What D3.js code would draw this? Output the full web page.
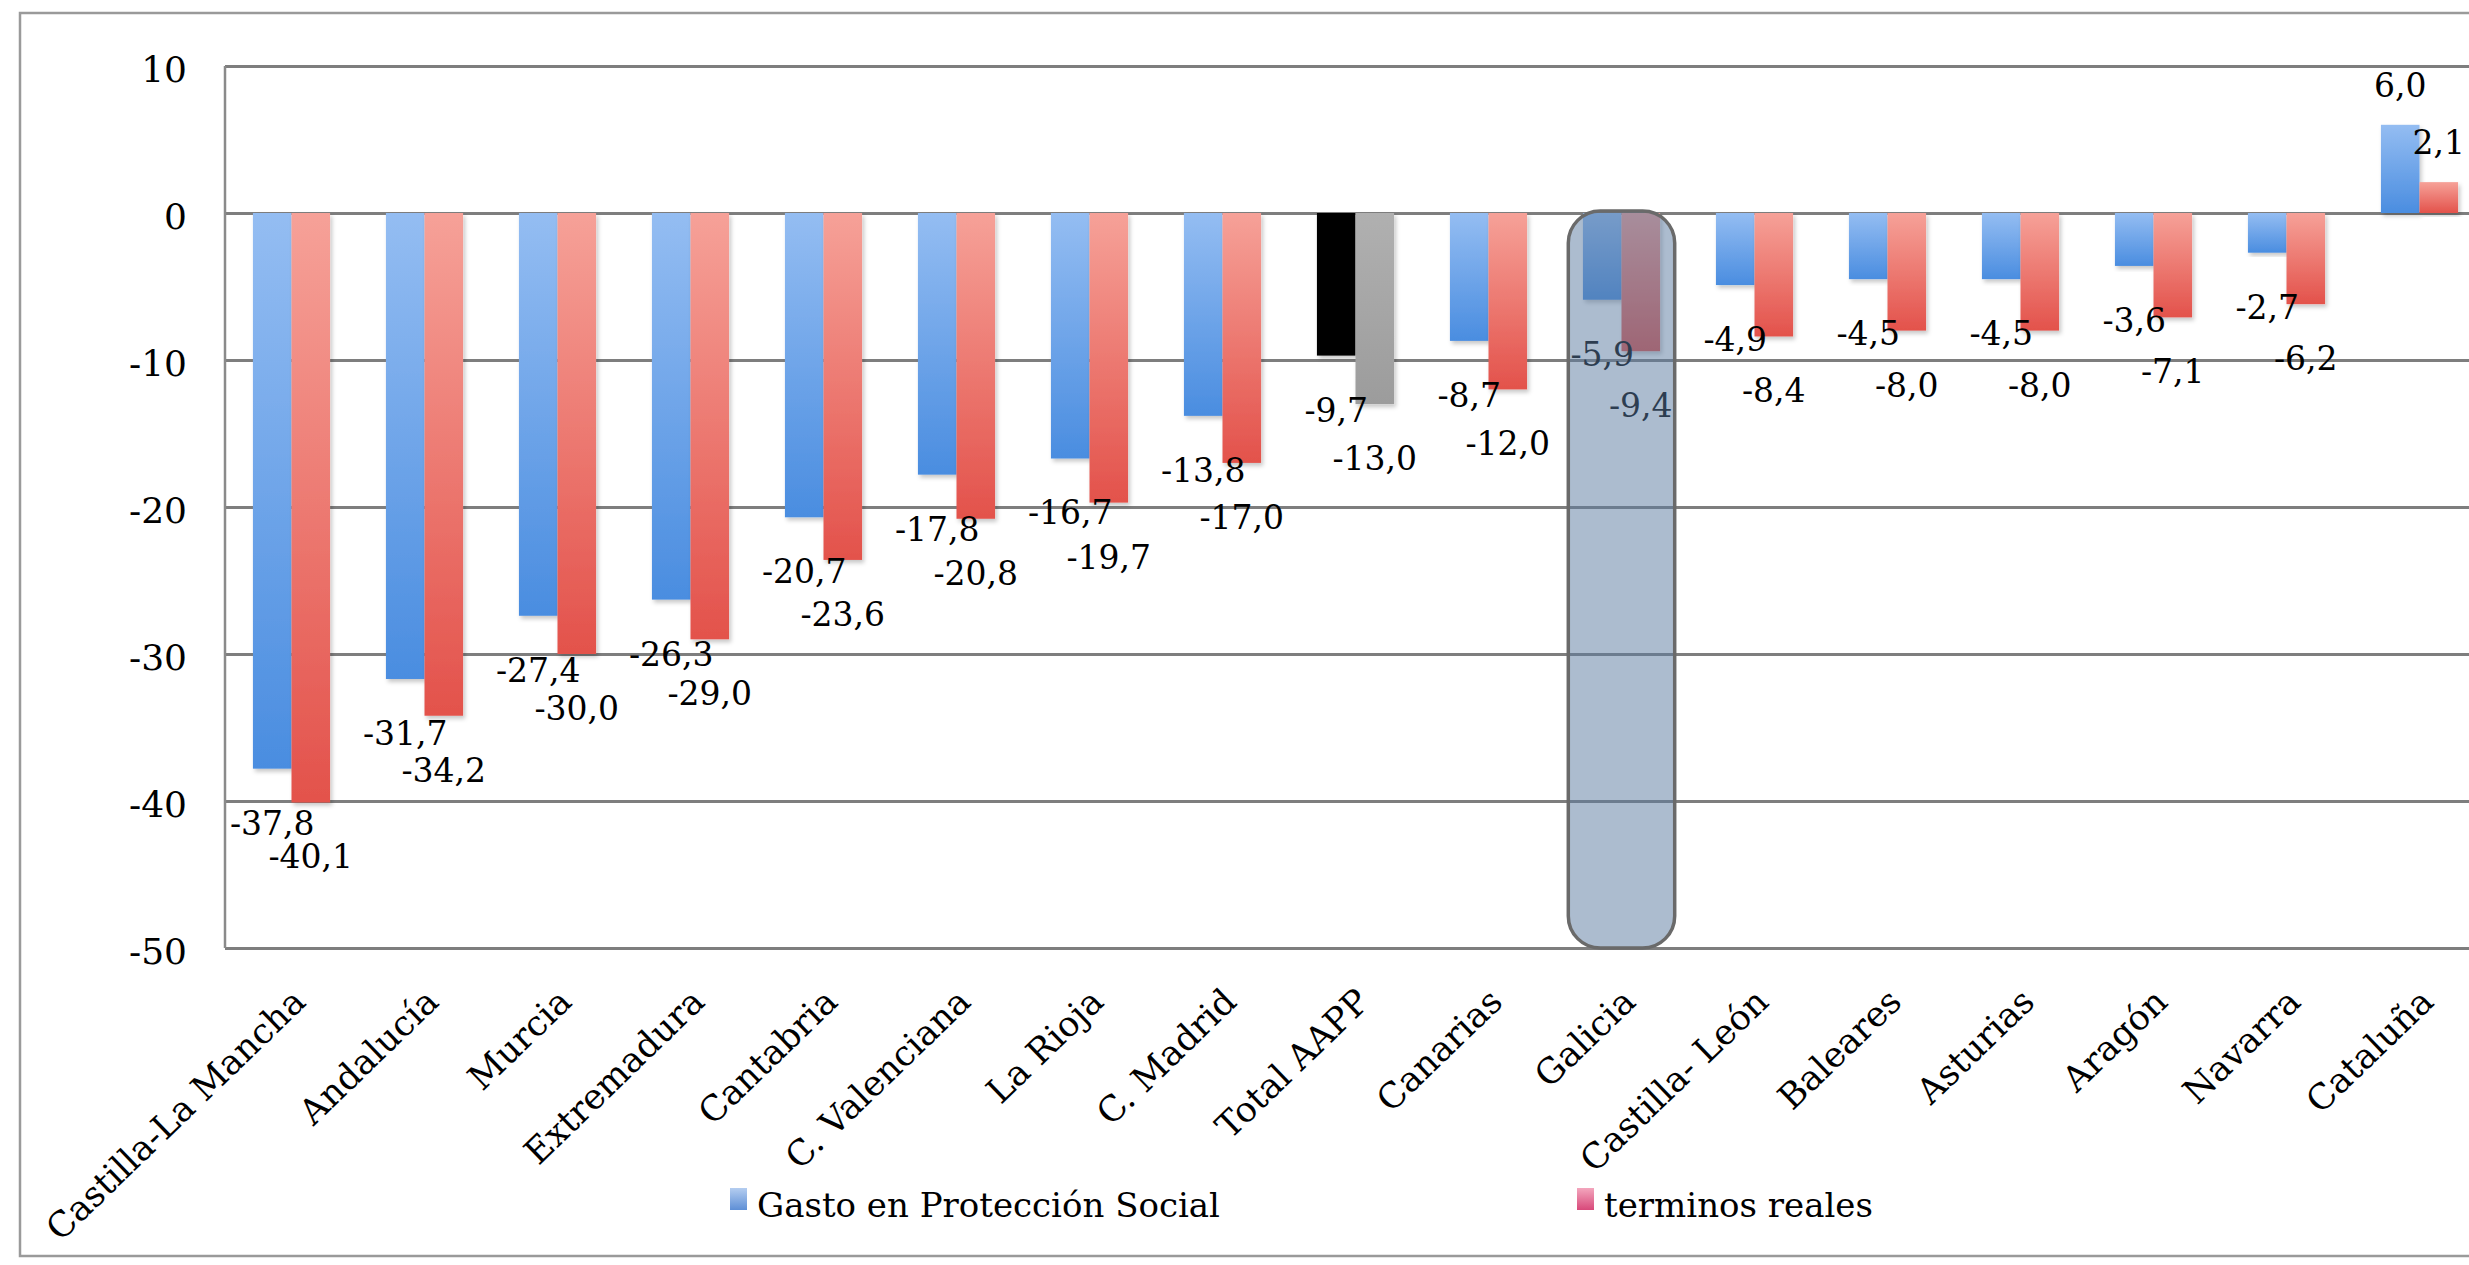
<!DOCTYPE html>
<html>
<head>
<meta charset="utf-8">
<script src="https://cdn.jsdelivr.net/npm/d3@7"></script>
<style>
    body { margin: 0; background: #fff; }
    text { font-family: "DejaVu Serif", serif; fill: #000; }
</style>
</head>
<body>
<div id="chart"></div>
<script>
const categories = ["Castilla-La Mancha", "Andalucía", "Murcia", "Extremadura", "Cantabria",
    "C. Valenciana", "La Rioja", "C. Madrid", "Total AAPP", "Canarias", "Galicia",
    "Castilla- León", "Baleares", "Asturias", "Aragón", "Navarra", "Cataluña"];
const gasto = [-37.8, -31.7, -27.4, -26.3, -20.7, -17.8, -16.7, -13.8, -9.7, -8.7, -5.9,
    -4.9, -4.5, -4.5, -3.6, -2.7, 6.0];
const reales = [-40.1, -34.2, -30.0, -29.0, -23.6, -20.8, -19.7, -17.0, -13.0, -12.0, -9.4,
    -8.4, -8.0, -8.0, -7.1, -6.2, 2.1];
const seriesNames = ["Gasto en Protección Social", "terminos reales"];
const yTicks = [10, 0, -10, -20, -30, -40, -50];
const totalCat = "Total AAPP";
const highlightCat = "Galicia";

const W = 2469, H = 1265;
const margin = {left: 225, top: 66, bottom: 948};
const step = 133;

const svg = d3.select("#chart").append("svg")
    .attr("width", W)
    .attr("height", H);

const defs = svg.append("defs");
function vGrad(id, c1, c2) {
    const g = defs.append("linearGradient").attr("id", id)
        .attr("x1", 0).attr("y1", 0).attr("x2", 0).attr("y2", 1);
    g.append("stop").attr("offset", "0%").attr("stop-color", c1);
    g.append("stop").attr("offset", "100%").attr("stop-color", c2);
}
vGrad("blueGrad", "#94bdf2", "#4a8de0");
vGrad("redGrad", "#f6a198", "#e3524b");
vGrad("greyGrad", "#b0b0b0", "#9c9c9c");
vGrad("legBlue", "#b4cdf0", "#5e8fd6");
vGrad("legPink", "#f3a6bd", "#d8497a");

defs.append("filter").attr("id", "shadow")
    .attr("x", "-20%").attr("y", "-5%").attr("width", "150%").attr("height", "115%")
    .append("feDropShadow")
        .attr("dx", 2).attr("dy", 3).attr("stdDeviation", 2)
        .attr("flood-color", "#000").attr("flood-opacity", 0.22);

// outer frame
svg.append("rect")
    .attr("x", 20).attr("y", 13)
    .attr("width", W).attr("height", 1243)
    .attr("fill", "none")
    .attr("stroke", "#9a9a9a")
    .attr("stroke-width", 2.5);

const x0 = d3.scaleBand()
    .domain(categories)
    .range([margin.left, margin.left + categories.length * step])
    .paddingInner(0.42)
    .paddingOuter(0.21);

const x1 = d3.scaleBand()
    .domain([0, 1])
    .range([0, x0.bandwidth()]);

const y = d3.scaleLinear()
    .domain([-50, 10])
    .range([margin.bottom, margin.top]);

// gridlines + y labels
const yAxis = d3.axisLeft(y)
    .tickValues(yTicks)
    .tickFormat(d => String(d))
    .tickSize(-(W - margin.left))
    .tickPadding(38);

const gy = svg.append("g")
    .attr("class", "y axis")
    .attr("transform", `translate(${margin.left},0)`)
    .call(yAxis);
gy.select(".domain").remove();
gy.selectAll("line")
    .attr("stroke", "#7e7e7e")
    .attr("stroke-width", 3);
gy.selectAll("text")
    .attr("font-size", 36)
    .attr("dy", "0.43em")
    .attr("fill", "#000");

svg.append("line")
    .attr("x1", margin.left).attr("x2", margin.left)
    .attr("y1", y(10)).attr("y2", y(-50))
    .attr("stroke", "#8a8a8a")
    .attr("stroke-width", 2.5);

const rows = categories.map((c, i) => ({cat: c, values: [gasto[i], reales[i]]}));

const fillFor = (cat, j) => {
    if (cat === totalCat) return j === 0 ? "#000" : "url(#greyGrad)";
    return j === 0 ? "url(#blueGrad)" : "url(#redGrad)";
};

const groups = svg.selectAll(".group")
    .data(rows)
    .enter().append("g")
    .attr("class", "group")
    .attr("transform", d => `translate(${x0(d.cat)},0)`);

groups.selectAll("rect")
    .data(d => d.values.map((v, j) => ({cat: d.cat, v: v, j: j})))
    .enter().append("rect")
    .attr("x", d => x1(d.j))
    .attr("y", d => y(Math.max(0, d.v)))
    .attr("width", x1.bandwidth())
    .attr("height", d => Math.abs(y(d.v) - y(0)))
    .attr("fill", d => fillFor(d.cat, d.j))
    .attr("filter", "url(#shadow)");

const fmt = v => d3.format(".1f")(v).replace("\u2212", "-").replace(".", ",");

groups.selectAll(".val")
    .data(d => d.values.map((v, j) => ({v: v, j: j})))
    .enter().append("text")
    .attr("class", "val")
    .attr("x", d => x1(d.j) + x1.bandwidth() / 2)
    .attr("y", d => d.v < 0 ? y(d.v) + 66 : y(d.v) - 28)
    .attr("text-anchor", "middle")
    .attr("font-size", 33)
    .text(d => fmt(d.v));

// category labels
svg.append("g").selectAll("text")
    .data(categories)
    .enter().append("text")
    .attr("transform", d => `translate(${x0(d) + x0.bandwidth() / 2 + 16},1004) rotate(-44)`)
    .attr("text-anchor", "end")
    .attr("font-size", 35)
    .text(d => d);

// highlight box over Galicia
const hc = x0(highlightCat) + x0.bandwidth() / 2;
svg.append("rect")
    .attr("x", hc - 0.4 * step)
    .attr("y", y(0) - 2)
    .attr("width", 0.8 * step)
    .attr("height", y(-50) - y(0) + 2)
    .attr("rx", 32).attr("ry", 32)
    .attr("fill", "#5a7aa0")
    .attr("fill-opacity", 0.5)
    .attr("stroke", "#6a6a6a")
    .attr("stroke-width", 3.5);

// legend
const legendPos = [[730, "url(#legBlue)"], [1577, "url(#legPink)"]];
const legend = svg.selectAll(".legend")
    .data(seriesNames)
    .enter().append("g")
    .attr("class", "legend")
    .attr("transform", (d, i) => `translate(${legendPos[i][0]},0)`);
legend.append("rect")
    .attr("x", 0).attr("y", 1188)
    .attr("width", 17).attr("height", 22)
    .attr("fill", (d, i) => legendPos[i][1]);
legend.append("text")
    .attr("x", 27).attr("y", 1217)
    .attr("font-size", 34)
    .text(d => d);
</script>
</body>
</html>
